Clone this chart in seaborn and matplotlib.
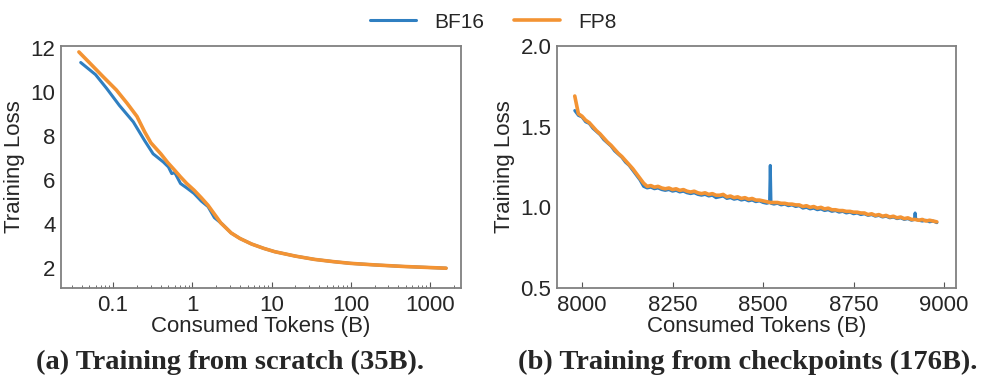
import numpy as np
import pandas as pd
import matplotlib
matplotlib.use("Agg")
import matplotlib.pyplot as plt
import seaborn as sns

# ---- data ----
# (a) training from scratch, log-scale tokens (B)
scratch_bf16_tokens = [0.039, 0.06, 0.083, 0.12, 0.18, 0.25, 0.32, 0.43, 0.5, 0.55, 0.6, 0.71,
                       0.85, 1.05, 1.3, 1.58, 1.9, 2.4, 3.1, 4, 5.6, 8, 11, 20, 35, 60, 100,
                       200, 460, 1000, 1600]
scratch_bf16_loss = [11.35, 10.8, 10.17, 9.4, 8.65, 7.8, 7.2, 6.83, 6.6, 6.3, 6.35, 5.85,
                     5.65, 5.4, 5.05, 4.8, 4.3, 4.0, 3.6, 3.35, 3.1, 2.9, 2.75, 2.55, 2.4,
                     2.3, 2.22, 2.15, 2.08, 2.03, 2.0]
scratch_fp8_tokens = [0.037, 0.05, 0.075, 0.11, 0.15, 0.2, 0.25, 0.3, 0.4, 0.49, 0.6, 0.71,
                      0.85, 1.05, 1.3, 1.58, 2.3, 3.1, 4, 5.6, 8, 11, 20, 35, 60, 100, 200,
                      460, 1000, 1600]
scratch_fp8_loss = [11.83, 11.35, 10.7, 10.1, 9.5, 8.9, 8.2, 7.7, 7.2, 6.8, 6.45, 6.15,
                    5.85, 5.55, 5.2, 4.86, 4.05, 3.6, 3.35, 3.1, 2.9, 2.75, 2.55, 2.4, 2.3,
                    2.22, 2.15, 2.08, 2.03, 2.0]

# (b) training from checkpoints
ckpt_fp8_tokens = list(range(7980, 8990, 10))
ckpt_bf16_tokens = (list(range(7980, 8520, 10)) + [8518, 8520, 8522]
                    + list(range(8530, 8920, 10)) + [8918, 8920, 8922]
                    + list(range(8930, 8990, 10)))
ckpt_bf16_loss = [1.60, 1.57, 1.56, 1.53, 1.52, 1.49, 1.47, 1.45, 1.42, 1.40,
                  1.38, 1.35, 1.33, 1.31, 1.28, 1.26, 1.23, 1.20, 1.17, 1.13,
                  1.12, 1.125, 1.115, 1.12, 1.11, 1.105, 1.11, 1.10, 1.105, 1.095,
                  1.10, 1.09, 1.085, 1.09, 1.08, 1.075, 1.08, 1.07, 1.075, 1.06,
                  1.065, 1.07, 1.055, 1.06, 1.05, 1.055, 1.045, 1.05, 1.04, 1.045,
                  1.035, 1.04, 1.03, 1.025,
                  1.03, 1.26, 1.025,
                  1.02, 1.025, 1.015, 1.02, 1.01,
                  1.015, 1.005, 1.01, 0.995, 1.0, 0.99, 0.995, 0.985, 0.99, 0.98,
                  0.985, 0.975, 0.98, 0.97, 0.975, 0.965, 0.97, 0.96, 0.965, 0.955,
                  0.96, 0.95, 0.955, 0.945, 0.95, 0.94, 0.945, 0.935, 0.94, 0.93,
                  0.935, 0.925, 0.93, 0.92,
                  0.925, 0.965, 0.925,
                  0.92, 0.915, 0.92, 0.91, 0.915, 0.905]
ckpt_fp8_loss = [1.69, 1.58, 1.565, 1.54, 1.525, 1.50, 1.475, 1.455, 1.43, 1.405,
                 1.385, 1.36, 1.335, 1.315, 1.29, 1.265, 1.24, 1.21, 1.18, 1.15,
                 1.13, 1.135, 1.125, 1.13, 1.12, 1.115, 1.12, 1.11, 1.115, 1.105,
                 1.11, 1.10, 1.095, 1.10, 1.09, 1.085, 1.09, 1.08, 1.085, 1.075,
                 1.075, 1.08, 1.065, 1.07, 1.06, 1.065, 1.055, 1.06, 1.05, 1.055,
                 1.045, 1.045, 1.04, 1.035, 1.03, 1.03, 1.03, 1.025, 1.025, 1.02,
                 1.02, 1.015, 1.015, 1.005, 1.01, 1.0, 1.005, 0.995, 1.0, 0.99,
                 0.995, 0.985, 0.985, 0.98, 0.98, 0.975, 0.975, 0.97, 0.97, 0.965,
                 0.965, 0.955, 0.96, 0.95, 0.955, 0.945, 0.95, 0.94, 0.945, 0.935,
                 0.94, 0.93, 0.935, 0.925, 0.925, 0.92, 0.925, 0.915, 0.92, 0.915,
                 0.91]

series_names = ["BF16", "FP8"]
colors = ["#2f7fc1", "#f39333"]

sns.set_style("white")
plt.rcParams['font.family'] = ['Liberation Sans', 'DejaVu Sans']

fig = plt.figure(figsize=(9.97, 3.87), dpi=100)
ax1 = fig.add_axes([0.0612, 0.2558, 0.4012, 0.6253])
ax2 = fig.add_axes([0.5587, 0.2558, 0.4002, 0.6253])

scratch = pd.concat([
    pd.DataFrame({"tokens": scratch_bf16_tokens, "loss": scratch_bf16_loss, "type": "BF16"}),
    pd.DataFrame({"tokens": scratch_fp8_tokens, "loss": scratch_fp8_loss, "type": "FP8"}),
])
ckpt = pd.concat([
    pd.DataFrame({"tokens": ckpt_bf16_tokens, "loss": ckpt_bf16_loss, "type": "BF16"}),
    pd.DataFrame({"tokens": ckpt_fp8_tokens, "loss": ckpt_fp8_loss, "type": "FP8"}),
])

for name, c, lw in zip(series_names, colors, [2.2, 2.6]):
    sns.lineplot(data=scratch[scratch["type"] == name], x="tokens", y="loss",
                 color=c, lw=lw, ax=ax1, label=name, sort=False)
    sns.lineplot(data=ckpt[ckpt["type"] == name], x="tokens", y="loss",
                 color=c, lw=lw, ax=ax2, sort=False)

ax1.set_xscale("log")
ax1.set_xlim(0.022, 2470)
ax1.set_ylim(1.1, 12.1)
ax1.set_yticks([2, 4, 6, 8, 10, 12])
ax1.set_xticks([0.1, 1, 10, 100, 1000])
ax1.set_xticklabels(["0.1", "1", "10", "100", "1000"])

ax2.set_xlim(7931, 9033)
ax2.set_ylim(0.5, 2.0)
ax2.set_xticks([8000, 8250, 8500, 8750, 9000])
ax2.set_yticks([0.5, 1.0, 1.5, 2.0])
ax2.set_yticklabels(["0.5", "1.0", "1.5", "2.0"])

for ax in (ax1, ax2):
    ax.set_xlabel("Consumed Tokens (B)", fontsize=16, labelpad=0)
    ax.set_ylabel("Training Loss", fontsize=16, labelpad=4)
    ax.tick_params(axis="x", which="major", direction="in", length=4, width=0.8,
                   labelsize=16, pad=5, bottom=True, color="#555555")
    ax.tick_params(axis="x", which="minor", direction="in", length=2, width=0.6,
                   bottom=True, color="#555555")
    ax.tick_params(axis="y", length=0, labelsize=16, pad=4)
    for s in ax.spines.values():
        s.set_color("#808080")
        s.set_linewidth(1.3)
    if ax.get_legend() is not None:
        ax.get_legend().remove()

handles, labels = ax1.get_legend_handles_labels()
fig.legend(handles, labels, loc="center", bbox_to_anchor=(0.495, 0.943), ncol=2,
           frameon=False, fontsize=15, handlelength=2.2, handletextpad=0.9,
           columnspacing=1.4)

fig.text(0.231, 0.063, "(a) Training from scratch (35B).", ha="center", va="center",
         fontsize=20.5, fontweight="bold", family="Liberation Serif")
fig.text(0.750, 0.063, "(b) Training from checkpoints (176B).", ha="center", va="center",
         fontsize=20.5, fontweight="bold", family="Liberation Serif")

fig.savefig("out.png", dpi=100)
